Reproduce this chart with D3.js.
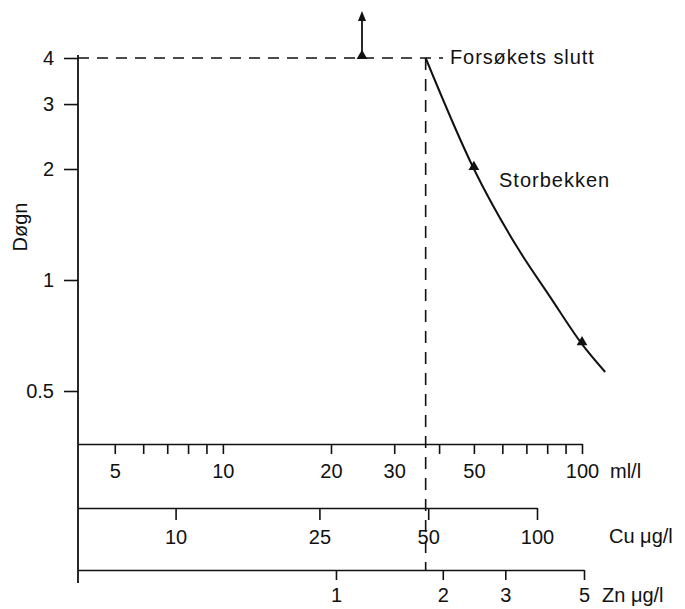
<!DOCTYPE html>
<html>
<head>
<meta charset="utf-8">
<script src="https://cdn.jsdelivr.net/npm/d3@7"></script>
<style>
  body { margin: 0; background: #fff; }
  text { font-family: "Liberation Sans", Arial, sans-serif; fill: #111; }
  .axis path, .axis line { stroke: #111; stroke-width: 1.6; }
  .axis text { font-size: 20px; }
</style>
</head>
<body>
<div class="chart"></div>
<script>
var svgWidth = 685;
var svgHeight = 609;

// y axis (days, log)
var dayTicks = [0.5, 1, 2, 3, 4];
var dayLabels = ["0.5", "1", "2", "3", "4"];

// x axes (three log scales)
var mlTicks = [5, 6, 7, 8, 9, 10, 20, 30, 40, 50, 60, 70, 80, 90, 100];
var mlLabels = [5, 10, 20, 30, 50, 100];
var cuTicks = [10, 25, 50, 100];
var znTicks = [1, 2, 3, 5];

// Storbekken curve (ml/l, days)
var curveMl = [36.7, 50, 65.9, 81.5, 100, 116];
var curveDays = [4, 2.0, 1.23, 0.9, 0.67, 0.563];

// measured points (triangles), first one still alive at end
var pointMl = [24.4, 50, 100];
var pointDays = [4, 2.0, 0.67];

var endDays = 4;     // end of experiment
var endMl = 36.7;    // dashed vertical line

var svg = d3.select(".chart")
  .append("svg")
  .attr("width", svgWidth)
  .attr("height", svgHeight);

var yScale = d3.scaleLog().domain([0.5, 4]).range([391, 58]);
var mlScale = d3.scaleLog().domain([3.95, 100]).range([78, 582]);
var cuScale = d3.scaleLog().domain([5.37, 100]).range([78, 537]);
var znScale = d3.scaleLog().domain([0.1875, 5]).range([78, 584]);

var axisX = 78;
var mlY = 444, cuY = 508, znY = 570;

// y axis line
svg.append("line")
  .attr("x1", axisX).attr("x2", axisX)
  .attr("y1", 55).attr("y2", 583)
  .attr("stroke", "#111")
  .attr("stroke-width", 1.8);

var leftAxis = d3.axisLeft(yScale)
  .tickValues(dayTicks)
  .tickFormat(function(d, i) { return dayLabels[i]; })
  .tickSize(14)
  .tickPadding(10);

var yAxisG = svg.append("g")
  .attr("class", "axis")
  .attr("transform", `translate(${axisX}, 0)`)
  .call(leftAxis);
yAxisG.select(".domain").remove();

svg.append("text")
  .attr("transform", "rotate(-90)")
  .attr("x", -227)
  .attr("y", 27)
  .attr("text-anchor", "middle")
  .style("font-size", "20px")
  .text("Døgn");

// ml/l axis
var mlAxis = d3.axisBottom(mlScale)
  .tickValues(mlTicks)
  .tickFormat(function(d) { return mlLabels.indexOf(d) >= 0 ? d : ""; })
  .tickSize(10)
  .tickSizeOuter(0)
  .tickPadding(10);
svg.append("g")
  .attr("class", "axis")
  .attr("transform", `translate(0, ${mlY})`)
  .call(mlAxis);

// Cu axis
var cuAxis = d3.axisBottom(cuScale)
  .tickValues(cuTicks)
  .tickFormat(d3.format("d"))
  .tickSize(12)
  .tickSizeOuter(0)
  .tickPadding(10);
svg.append("g")
  .attr("class", "axis")
  .attr("transform", `translate(0, ${cuY})`)
  .call(cuAxis);

// Zn axis
var znAxis = d3.axisBottom(znScale)
  .tickValues(znTicks)
  .tickFormat(d3.format("d"))
  .tickSize(10)
  .tickSizeOuter(0)
  .tickPadding(8);
svg.append("g")
  .attr("class", "axis")
  .attr("transform", `translate(0, ${znY})`)
  .call(znAxis);

// unit labels
svg.append("text").attr("x", 610).attr("y", 478)
  .style("font-size", "20px").text("ml/l");
svg.append("text").attr("x", 609).attr("y", 543)
  .style("font-size", "20px").text("Cu \u03bcg/l");
svg.append("text").attr("x", 602).attr("y", 602)
  .style("font-size", "20px").text("Zn \u03bcg/l");

// dashed lines: end of experiment
svg.append("line")
  .attr("x1", axisX).attr("x2", 443)
  .attr("y1", yScale(endDays)).attr("y2", yScale(endDays))
  .attr("stroke", "#111")
  .attr("stroke-width", 1.6)
  .attr("stroke-dasharray", "11,8");

svg.append("line")
  .attr("x1", mlScale(endMl)).attr("x2", mlScale(endMl))
  .attr("y1", yScale(endDays)).attr("y2", znY)
  .attr("stroke", "#111")
  .attr("stroke-width", 1.6)
  .attr("stroke-dasharray", "12,9");

svg.append("text")
  .attr("x", 450)
  .attr("y", yScale(endDays) + 6)
  .style("font-size", "20px")
  .style("letter-spacing", "0.9px")
  .text("Forsøkets slutt");

// curve
var curveData = curveMl.map(function(m, i) { return [m, curveDays[i]]; });
var line = d3.line()
  .x(d => mlScale(d[0]))
  .y(d => yScale(d[1]))
  .curve(d3.curveMonotoneX);

svg.append("path")
  .datum(curveData)
  .attr("d", line)
  .attr("fill", "none")
  .attr("stroke", "#111")
  .attr("stroke-width", 2);

svg.append("text")
  .attr("x", 499)
  .attr("y", 187)
  .style("font-size", "20px")
  .style("letter-spacing", "1px")
  .text("Storbekken");

// triangle points
var pointData = pointMl.map(function(m, i) { return [m, pointDays[i]]; });
svg.selectAll(".pt")
  .data(pointData)
  .enter()
  .append("path")
  .attr("class", "pt")
  .attr("d", d3.symbol().type(d3.symbolTriangle).size(50))
  .attr("transform", d => `translate(${mlScale(d[0])}, ${yScale(d[1]) - 2})`)
  .attr("fill", "#111");

// arrow: survived past end
var arrowX = mlScale(pointMl[0]);
svg.append("line")
  .attr("x1", arrowX).attr("x2", arrowX)
  .attr("y1", yScale(pointDays[0]))
  .attr("y2", 18)
  .attr("stroke", "#111")
  .attr("stroke-width", 1.8);
svg.append("path")
  .attr("d", `M${arrowX},11 L${arrowX - 4},21 L${arrowX + 4},21 Z`)
  .attr("fill", "#111");
</script>
</body>
</html>
